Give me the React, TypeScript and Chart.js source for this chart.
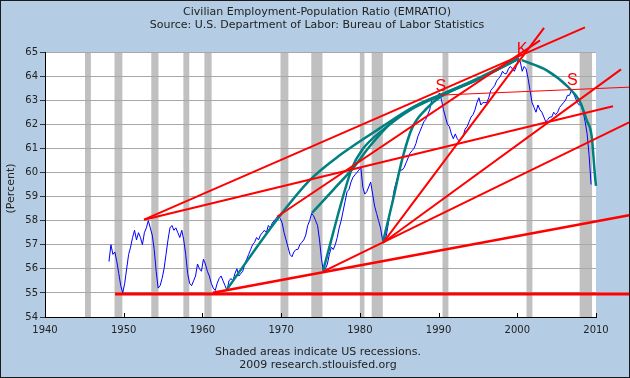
import React, { useEffect, useRef } from 'react';
import { Chart, registerables } from 'chart.js';

Chart.register(...registerables);

// ---------- text ----------
const titleLines = [
  'Civilian Employment-Population Ratio (EMRATIO)',
  'Source: U.S. Department of Labor: Bureau of Labor Statistics',
];
const footerLines = ['Shaded areas indicate US recessions.', '2009 research.stlouisfed.org'];
const yAxisLabel = '(Percent)';

// ---------- axes ----------
const xTicks = [1940, 1950, 1960, 1970, 1980, 1990, 2000, 2010];
const xMin = 1940;
const xMax = 2010;
const yMin = 54;
const yMax = 65;

// ---------- recessions (decimal years) ----------
const recessionStarts = [1945.08, 1948.83, 1953.5, 1957.58, 1960.25, 1969.92, 1973.83, 1980.0, 1981.5, 1990.5, 2001.17, 2007.92];
const recessionEnds = [1945.83, 1949.83, 1954.42, 1958.33, 1961.17, 1970.92, 1975.25, 1980.58, 1982.92, 1991.25, 2001.92, 2009.5];

// ---------- EMRATIO, quarterly, from 1948 Q1 ----------
const seriesStartYear = 1948;
const emratioQuarterly = [
  56.3, 57.0, 56.6, 56.7, // 1948
  56.3, 55.8, 55.3, 55.0, // 1949
  55.4, 56.0, 56.6, 56.9, // 1950
  57.3, 57.6, 57.2, 57.5, // 1951
  57.3, 57.0, 57.5, 57.7, // 1952
  58.0, 57.7, 57.4, 56.8, // 1953
  55.9, 55.2, 55.3, 55.6, // 1954
  56.0, 56.6, 57.2, 57.7, // 1955
  57.8, 57.6, 57.7, 57.5, // 1956
  57.3, 57.6, 57.2, 56.6, // 1957
  55.8, 55.4, 55.3, 55.5, // 1958
  55.7, 56.2, 56.0, 55.9, // 1959
  56.4, 56.2, 55.9, 55.7, // 1960
  55.4, 55.2, 55.1, 55.4, // 1961
  55.6, 55.7, 55.5, 55.3, // 1962
  55.1, 55.5, 55.6, 55.5, // 1963
  55.8, 56.0, 55.7, 55.8, // 1964
  55.9, 56.2, 56.4, 56.6, // 1965
  56.8, 57.0, 57.1, 57.3, // 1966
  57.2, 57.4, 57.5, 57.6, // 1967
  57.5, 57.8, 57.7, 57.9, // 1968
  58.0, 58.1, 58.2, 58.1, // 1969
  57.9, 57.5, 57.2, 56.9, // 1970
  56.6, 56.5, 56.7, 56.8, // 1971
  56.8, 57.0, 57.1, 57.2, // 1972
  57.4, 57.8, 58.0, 58.3, // 1973
  58.2, 58.0, 57.8, 57.2, // 1974
  56.4, 55.9, 56.0, 56.2, // 1975
  56.6, 56.9, 56.8, 57.0, // 1976
  57.3, 57.7, 58.0, 58.4, // 1977
  58.8, 59.2, 59.3, 59.6, // 1978
  59.8, 59.9, 60.0, 60.1, // 1979
  60.2, 59.4, 59.1, 59.2, // 1980
  59.4, 59.6, 59.1, 58.6, // 1981
  58.3, 58.0, 57.7, 57.2, // 1982
  57.1, 57.4, 57.9, 58.4, // 1983
  58.8, 59.3, 59.6, 59.9, // 1984
  60.1, 60.1, 60.2, 60.4, // 1985
  60.6, 60.8, 60.9, 61.0, // 1986
  61.2, 61.5, 61.7, 61.9, // 1987
  62.1, 62.2, 62.4, 62.6, // 1988
  63.0, 63.1, 63.0, 63.2, // 1989
  63.3, 63.0, 62.6, 62.3, // 1990
  62.0, 61.9, 61.6, 61.4, // 1991
  61.6, 61.4, 61.3, 61.4, // 1992
  61.5, 61.8, 61.9, 62.1, // 1993
  62.3, 62.4, 62.6, 62.9, // 1994
  63.1, 62.8, 62.9, 62.9, // 1995
  62.9, 63.1, 63.4, 63.5, // 1996
  63.6, 63.8, 63.9, 64.0, // 1997
  64.2, 64.1, 64.1, 64.3, // 1998
  64.4, 64.3, 64.2, 64.4, // 1999
  64.7, 64.6, 64.2, 64.4, // 2000
  64.3, 63.9, 63.4, 62.9, // 2001
  62.7, 62.5, 62.8, 62.6, // 2002
  62.5, 62.3, 62.1, 62.2, // 2003
  62.3, 62.3, 62.5, 62.4, // 2004
  62.5, 62.7, 62.8, 62.9, // 2005
  63.0, 63.2, 63.2, 63.4, // 2006
  63.3, 63.1, 62.9, 62.8, // 2007
  62.8, 62.5, 62.1, 61.6, // 2008
  60.7, 59.5, // 2009
];

// ---------- hand-drawn red trend lines: [year, percent] ----------
const redLineStarts: [number, number][] = [
  [1948.9, 54.95],
  [1952.58, 58.04],
  [1952.58, 58.04],
  [1961.34, 55.01],
  [1975.32, 55.88],
  [1982.94, 57.08],
  [1982.94, 57.08],
  [1969.48, 58.16],
  [1990.18, 63.21],
];
const redLineEnds: [number, number][] = [
  [2014.2, 54.95],
  [2008.6, 66.02],
  [2012.16, 62.75],
  [2014.2, 58.22],
  [2014.2, 62.08],
  [2003.4, 66.0],
  [2013.18, 64.28],
  [2002.89, 65.48],
  [2014.2, 63.54],
];
const redLineWidths = [3, 2, 2, 2.5, 2, 2, 2, 2, 1];

// ---------- hand-drawn teal arcs: [year, percent] ----------
const arcFrom1963: [number, number][] = [
  [1963.08, 55.13], [1969.44, 58.03], [1973.67, 59.69], [1977.48, 60.72], [1982.56, 61.84],
  [1987.01, 62.75], [1990.18, 63.21], [1995.27, 63.95], [2000.22, 64.74],
];
const arcFrom1973: [number, number][] = [
  [1973.92, 58.32], [1976.59, 59.27], [1979.13, 60.18], [1981.29, 61.1], [1984.09, 62.09],
  [1987.26, 62.79], [1990.18, 63.21], [1995.27, 63.91], [2000.22, 64.74],
];
const arcFrom1975: [number, number][] = [
  [1975.32, 55.92], [1979.0, 60.18], [1980.27, 60.93], [1983.2, 61.84], [1986.37, 62.59],
  [1990.18, 63.19], [1995.27, 63.92], [2000.22, 64.74],
];
const arcFrom1983: [number, number][] = [
  [1982.94, 57.12], [1984.21, 58.86], [1985.36, 60.52], [1986.63, 61.84], [1988.53, 62.67],
  [1990.18, 63.12], [1995.27, 63.9], [2000.22, 64.74],
];
const arcFrom2000: [number, number][] = [
  [2000.56, 64.66], [2003.74, 64.24], [2006.45, 63.55], [2007.97, 62.93], [2008.82, 62.17],
  [2009.46, 61.48], [2009.88, 59.82], [2010.0, 59.44],
];
const tealArcs = [arcFrom1963, arcFrom1973, arcFrom1975, arcFrom1983, arcFrom2000];

// ---------- letter marks ----------
const markLetters = ['S', 'K', 'S'];
const markX = [1990.3, 2000.6, 2007.0];
const markY = [63.56, 65.11, 63.83];

const FONT = '"DejaVu Sans", Verdana, sans-serif';
const TEXT = '#222222';

const framePlugin = {
  id: 'framePlugin',
  beforeDraw(chart: any) {
    const { ctx, chartArea: a, scales } = chart;
    const x = scales.x;
    ctx.save();
    ctx.fillStyle = '#b4cde4';
    ctx.fillRect(0, 0, chart.width, chart.height);
    ctx.fillStyle = '#ffffff';
    ctx.fillRect(a.left, a.top, a.right - a.left, a.bottom - a.top);
    ctx.fillStyle = '#c0c0c0';
    for (let i = 0; i < recessionStarts.length; i++) {
      const x1 = x.getPixelForValue(recessionStarts[i]);
      const x2 = x.getPixelForValue(recessionEnds[i]);
      ctx.fillRect(x1, a.top, x2 - x1, a.bottom - a.top);
    }
    ctx.fillStyle = TEXT;
    ctx.font = '11px ' + FONT;
    ctx.textAlign = 'center';
    ctx.textBaseline = 'middle';
    ctx.fillText(titleLines[0], 317, 12);
    ctx.fillText(titleLines[1], 317, 25);
    ctx.fillText(footerLines[0], 318, 352);
    ctx.fillText(footerLines[1], 318, 365);
    ctx.save();
    ctx.translate(11, (a.top + a.bottom) / 2 + 4);
    ctx.rotate(-Math.PI / 2);
    ctx.fillText(yAxisLabel, 0, 0);
    ctx.restore();
    ctx.restore();
  },
  afterDatasetsDraw(chart: any) {
    const { ctx, scales } = chart;
    ctx.save();
    ctx.fillStyle = '#ff0000';
    ctx.font = '16px "Liberation Sans", Arial, sans-serif';
    ctx.textAlign = 'center';
    ctx.textBaseline = 'middle';
    for (let i = 0; i < markLetters.length; i++) {
      ctx.fillText(markLetters[i], scales.x.getPixelForValue(markX[i]), scales.y.getPixelForValue(markY[i]));
    }
    ctx.restore();
  },
  afterDraw(chart: any) {
    const { ctx, chartArea: a, scales } = chart;
    ctx.save();
    ctx.strokeStyle = '#000000';
    ctx.lineWidth = 1;
    ctx.beginPath();
    for (const t of xTicks) {
      const px = Math.round(scales.x.getPixelForValue(t)) + 0.5;
      ctx.moveTo(px, a.bottom);
      ctx.lineTo(px, a.bottom - 4);
    }
    ctx.stroke();
    ctx.lineWidth = 1;
    ctx.strokeStyle = '#1a1a1a';
    ctx.strokeRect(0.5, 0.5, chart.width - 1, chart.height - 1);
    ctx.restore();
  },
};

export default function App() {
  const ref = useRef<HTMLCanvasElement | null>(null);

  useEffect(() => {
    if (!ref.current) return;

    const redSets = redLineStarts.map((s, i) => ({
      type: 'line' as const,
      data: [
        { x: s[0], y: s[1] },
        { x: redLineEnds[i][0], y: redLineEnds[i][1] },
      ],
      borderColor: '#ff0000',
      borderWidth: redLineWidths[i],
      pointRadius: 0,
      clip: false as any,
      order: 0,
    }));

    const tealSets = tealArcs.map((arc) => ({
      type: 'line' as const,
      data: arc.map((p) => ({ x: p[0], y: p[1] })),
      borderColor: '#008080',
      borderWidth: 2.5,
      pointRadius: 0,
      cubicInterpolationMode: 'monotone' as const,
      clip: false as any,
      order: 1,
    }));

    const seriesSet = {
      type: 'line' as const,
      data: emratioQuarterly.map((v, i) => ({ x: seriesStartYear + 0.125 + i * 0.25, y: v })),
      borderColor: '#0000ff',
      borderWidth: 1,
      pointRadius: 0,
      order: 2,
    };

    const chart = new Chart(ref.current, {
      type: 'line',
      data: { datasets: [...redSets, ...tealSets, seriesSet] as any },
      options: {
        responsive: false,
        animation: false,
        devicePixelRatio: 1,
        layout: { padding: { top: 52, right: 34, left: 0, bottom: 0 } },
        plugins: { legend: { display: false }, tooltip: { enabled: false }, title: { display: false } },
        scales: {
          x: {
            type: 'linear',
            min: xMin,
            max: xMax,
            afterFit: (s: any) => { s.height = 61; },
            afterBuildTicks: (s: any) => { s.ticks = xTicks.map((v) => ({ value: v })); },
            ticks: {
              padding: 7,
              color: TEXT,
              font: { family: FONT, size: 10 },
              maxRotation: 0,
              autoSkip: false,
              callback: (v: any) => String(v),
            },
            grid: { display: true, drawOnChartArea: false, drawTicks: false },
            border: { display: true, color: '#000000', width: 1 },
          },
          y: {
            type: 'linear',
            min: yMin,
            max: yMax,
            afterFit: (s: any) => { s.width = 45; },
            ticks: {
              stepSize: 1,
              padding: 2,
              color: TEXT,
              font: { family: FONT, size: 10 },
              callback: (v: any) => String(v),
            },
            grid: { color: '#a8a8a8', lineWidth: 1, tickLength: 5, tickColor: '#333333' },
            border: { display: true, color: '#000000', width: 1 },
          },
        },
      },
      plugins: [framePlugin],
    });
    return () => chart.destroy();
  }, []);

  return (
    <div style={{ position: 'absolute', left: 0, top: 0, width: 630, height: 378 }}>
      <canvas ref={ref} width={630} height={378} style={{ display: 'block', width: 630, height: 378 }} />
    </div>
  );
}
